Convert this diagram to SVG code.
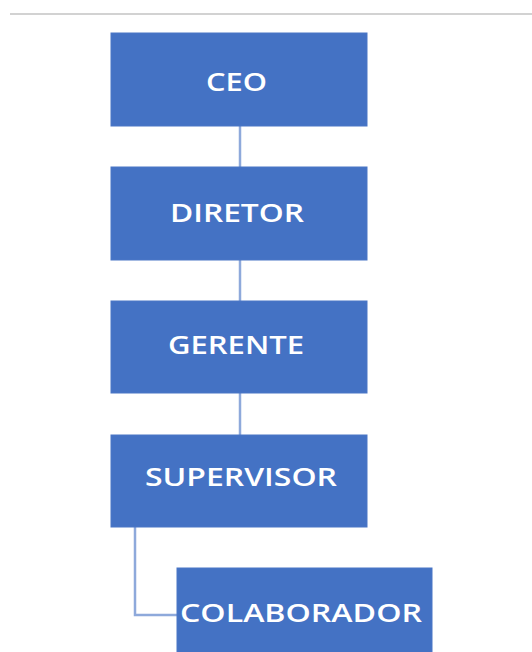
<svg xmlns="http://www.w3.org/2000/svg" width="532" height="652" viewBox="0 0 532 652">
<style>
.box{fill:#4472C4;stroke:#4A76C6;stroke-width:1}
.lbl{fill:#FFFFFF;font-family:"Open Sans","Liberation Sans",sans-serif;font-size:25px;font-weight:600;text-anchor:middle}
.conn{stroke:#8EA9DB;stroke-width:2.5;fill:none}
</style>
<rect width="532" height="652" fill="#FFFFFF"/>
<line x1="10" y1="14" x2="532" y2="14" stroke="#D2D2D2" stroke-width="2"/>
<g id="connectors">
<line class="conn" x1="240" y1="126" x2="240" y2="167"/>
<line class="conn" x1="240" y1="260" x2="240" y2="301"/>
<line class="conn" x1="240" y1="393" x2="240" y2="435"/>
<path class="conn" d="M135 527 V615 H177"/>
</g>
<g id="ceo">
<rect class="box" x="111" y="33" width="256" height="93"/>
<text class="lbl" x="236.5" y="91" textLength="61" lengthAdjust="spacingAndGlyphs">CEO</text>
</g>
<g id="diretor">
<rect class="box" x="111" y="167" width="256" height="93"/>
<text class="lbl" x="237" y="222" textLength="134" lengthAdjust="spacingAndGlyphs">DIRETOR</text>
</g>
<g id="gerente">
<rect class="box" x="111" y="301" width="256" height="92"/>
<text class="lbl" x="236" y="354" textLength="136" lengthAdjust="spacingAndGlyphs">GERENTE</text>
</g>
<g id="supervisor">
<rect class="box" x="111" y="435" width="256" height="92"/>
<text class="lbl" x="241" y="486" textLength="192" lengthAdjust="spacingAndGlyphs">SUPERVISOR</text>
</g>
<g id="colaborador">
<rect class="box" x="177" y="568" width="255" height="93"/>
<text class="lbl" x="301" y="622" textLength="242" lengthAdjust="spacingAndGlyphs">COLABORADOR</text>
</g>
</svg>
